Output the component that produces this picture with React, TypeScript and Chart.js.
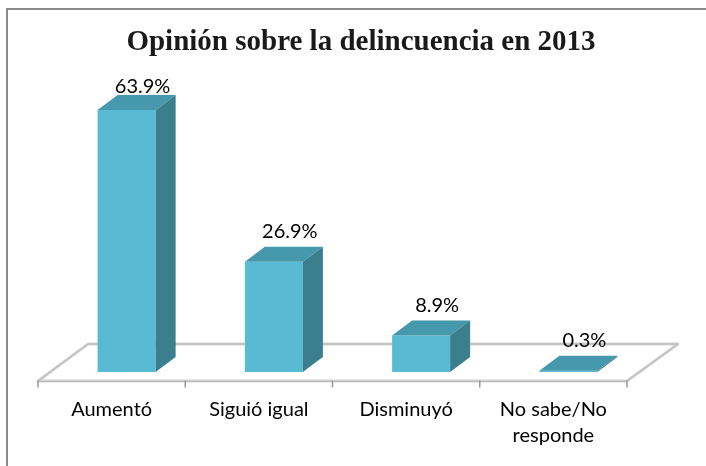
import React, { useEffect, useRef } from 'react';
import { Chart, registerables } from 'chart.js';

Chart.register(...registerables);

const TITLE = 'Opinión sobre la delincuencia en 2013';
const categories: (string | string[])[] = ['Aumentó', 'Siguió igual', 'Disminuyó', ['No sabe/No', 'responde']];
const values = [63.9, 26.9, 8.9, 0.3];
const Y_MAX = 72;

const FRONT = '#59BBD3';
const TOP = '#4698AD';
const SIDE = '#3B7E8E';
const DEPTH_X = 20;
const DEPTH_Y = 15;

const threeD = {
  id: 'threeD',
  beforeDraw(chart: any) {
    const ctx = chart.ctx;
    ctx.save();
    ctx.fillStyle = '#ffffff';
    ctx.fillRect(0, 0, chart.width, chart.height);
    ctx.strokeStyle = '#8a8a8a';
    ctx.lineWidth = 2;
    ctx.beginPath();
    ctx.moveTo(7, chart.height);
    ctx.lineTo(7, 9);
    ctx.lineTo(chart.width, 9);
    ctx.stroke();
    ctx.restore();
  },
  beforeDatasetsDraw(chart: any) {
    const ctx = chart.ctx;
    const a = chart.chartArea;
    const fl = { x: a.left - 15, y: a.bottom + 9 };
    const fr = { x: a.right - 15, y: a.bottom + 9 };
    const bl = { x: a.left + 35, y: a.bottom - 28 };
    const br = { x: a.right + 36, y: a.bottom - 28 };
    ctx.save();
    ctx.fillStyle = '#ffffff';
    ctx.beginPath();
    ctx.moveTo(fl.x, fl.y);
    ctx.lineTo(bl.x, bl.y);
    ctx.lineTo(br.x, br.y);
    ctx.lineTo(fr.x, fr.y);
    ctx.closePath();
    ctx.fill();
    ctx.lineCap = 'round';
    ctx.lineJoin = 'round';
    ctx.strokeStyle = '#d6d6d6';
    ctx.lineWidth = 3;
    ctx.stroke();
    ctx.strokeStyle = '#b4b4b4';
    ctx.lineWidth = 1;
    ctx.stroke();
    const xs = chart.scales.x;
    const n = xs.ticks.length;
    const half = (xs.getPixelForValue(1) - xs.getPixelForValue(0)) / 2;
    ctx.strokeStyle = '#9a9a9a';
    ctx.lineWidth = 1.5;
    for (let i = 0; i <= n; i++) {
      const px = (i < n ? xs.getPixelForValue(i) - half : xs.getPixelForValue(n - 1) + half) - 15;
      ctx.beginPath();
      ctx.moveTo(px, fl.y);
      ctx.lineTo(px, fl.y + 6);
      ctx.stroke();
    }
    ctx.restore();
  },
  afterDatasetsDraw(chart: any) {
    const ctx = chart.ctx;
    const meta = chart.getDatasetMeta(0);
    const a = chart.chartArea;
    ctx.save();
    meta.data.forEach((el: any, i: number) => {
      const { x, y, base, width } = el.getProps(['x', 'y', 'base', 'width'], true);
      const l = x - width / 2;
      const r = x + width / 2;
      ctx.fillStyle = TOP;
      ctx.beginPath();
      ctx.moveTo(l, y);
      ctx.lineTo(l + DEPTH_X, y - DEPTH_Y);
      ctx.lineTo(r + DEPTH_X, y - DEPTH_Y);
      ctx.lineTo(r, y);
      ctx.closePath();
      ctx.fill();
      ctx.fillStyle = SIDE;
      ctx.beginPath();
      ctx.moveTo(r, y);
      ctx.lineTo(r + DEPTH_X, y - DEPTH_Y);
      ctx.lineTo(r + DEPTH_X, base - DEPTH_Y);
      ctx.lineTo(r, base);
      ctx.closePath();
      ctx.fill();
      ctx.fillStyle = '#000000';
      ctx.font = '20px Lato';
      ctx.textAlign = 'center';
      ctx.textBaseline = 'alphabetic';
      const ly = Math.max(y - DEPTH_Y - 9, a.top + 16);
      ctx.fillText(values[i].toFixed(1) + '%', x + 16, ly);
    });
    ctx.restore();
  },
};

export default function App() {
  const ref = useRef<HTMLCanvasElement>(null);
  useEffect(() => {
    if (!ref.current) return;
    const chart = new Chart(ref.current, {
      type: 'bar',
      data: {
        labels: categories,
        datasets: [
          {
            data: values,
            backgroundColor: FRONT,
            borderWidth: 0,
            categoryPercentage: 1,
            barPercentage: 0.394,
          },
        ],
      },
      options: {
        responsive: false,
        animation: false,
        devicePixelRatio: 1,
        layout: { padding: { left: 53, right: 37, top: 0, bottom: 0 } },
        plugins: {
          legend: { display: false },
          tooltip: { enabled: false },
          title: {
            display: true,
            text: TITLE,
            color: '#1a1a1a',
            font: { family: 'Liberation Serif', size: 29, weight: 'bold' },
            padding: { top: 25, bottom: 17 },
          },
        },
        scales: {
          x: {
            grid: { display: false },
            border: { display: false },
            ticks: {
              color: '#000000',
              font: { family: 'Lato', size: 20, lineHeight: 1.3 },
              padding: 17,
              labelOffset: -15,
              maxRotation: 0,
              autoSkip: false,
            },
            afterFit: (s: any) => {
              s.height = 94;
            },
          },
          y: {
            position: 'right',
            min: 0,
            max: Y_MAX,
            grid: { display: false },
            border: { display: false },
            ticks: { display: false },
            afterFit: (s: any) => {
              s.width = 27;
            },
          },
        },
      },
      plugins: [threeD],
    });
    return () => chart.destroy();
  }, []);
  return (
    <div style={{ position: 'absolute', left: 0, top: 0, width: 706, height: 466 }}>
      <canvas ref={ref} width={706} height={466} style={{ display: 'block' }} />
    </div>
  );
}
